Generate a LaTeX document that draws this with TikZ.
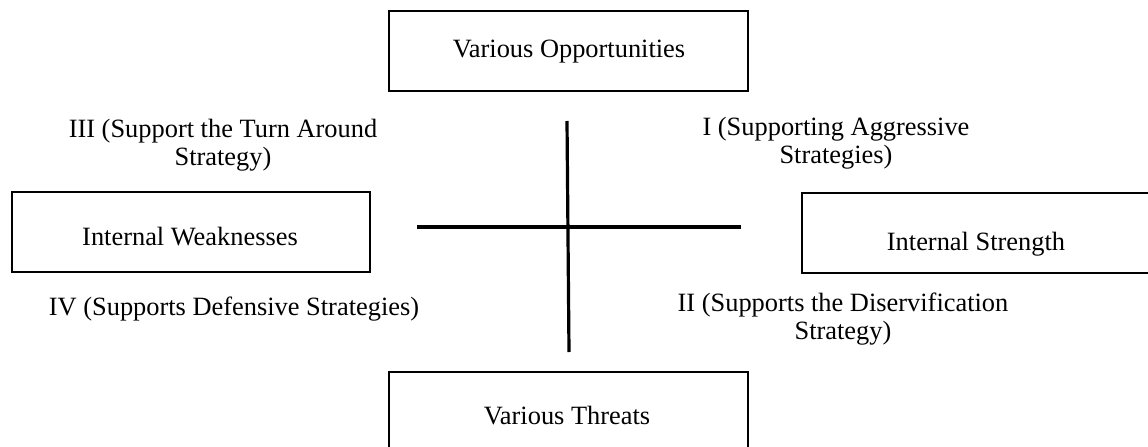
\documentclass[tikz,border=0pt]{standalone}
\usepackage{fontspec}
\setmainfont{Liberation Serif}
\begin{document}
\begin{tikzpicture}[x=0.75pt,y=-0.75pt,
  box/.style={draw=black,line width=1.6pt},
  lbl/.style={font=\fontsize{19.8}{21}\selectfont,inner sep=0pt,text=black},
  cross/.style={draw=black,line width=2.4pt}]
\useasboundingbox (0,0) rectangle (1148,446);
\clip (0,0) rectangle (1148,446);
% boxes
\draw[box] (389,11) rectangle (748,91);
\draw[box] (12,192) rectangle (370,272);
\draw[box] (802,193) rectangle (1170,273);
\draw[box] (389,372) rectangle (748,470);
% box labels
\node[lbl,anchor=base] (opp) at (569,57) {Various Opportunities};
\node[lbl,anchor=base] (weak) at (190,245) {Internal Weaknesses};
\node[lbl,anchor=base] (str) at (976,250) {Internal Strength};
\node[lbl,anchor=base] (thr) at (567,424) {Various Threats};
% quadrant labels
\node[lbl,align=center] (q3) at (223,145) {III (Support the Turn Around\\Strategy)};
\node[lbl,align=center] (q1) at (836,143) {I (Supporting Aggressive\\Strategies)};
\node[lbl,align=center] (q2) at (843,319) {II (Supports the Diservification\\Strategy)};
\node[lbl,anchor=base] (q4) at (234,315) {IV (Supports Defensive Strategies)};
% cross
\coordinate (vt) at (567,121);
\coordinate (vb) at (569,352);
\coordinate (hl) at (417,227);
\coordinate (hr) at (741,227);
\draw[cross] (vt) -- (vb);
\draw[cross] (hl) -- (hr);
\end{tikzpicture}
\end{document}
